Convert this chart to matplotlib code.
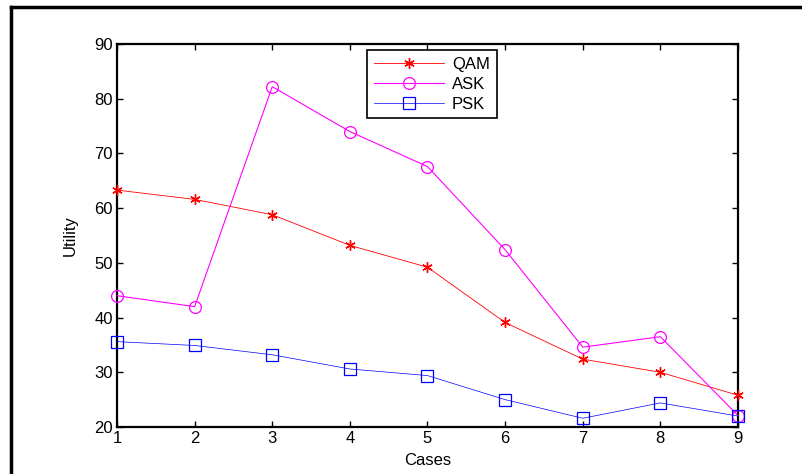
import matplotlib.pyplot as plt
import numpy as np
from matplotlib.lines import Line2D

plt.rcParams['font.family'] = ['Liberation Sans', 'DejaVu Sans']

cases = np.array([1, 2, 3, 4, 5, 6, 7, 8, 9])
qam = np.array([63.3, 61.6, 58.8, 53.2, 49.2, 39.1, 32.4, 30.0, 25.8])
ask = np.array([44.0, 42.0, 82.2, 74.0, 67.6, 52.4, 34.6, 36.5, 22.1])
psk = np.array([35.6, 34.9, 33.2, 30.6, 29.4, 25.0, 21.6, 24.4, 22.0])
yticks = [20, 30, 40, 50, 60, 70, 80, 90]

fig = plt.figure(figsize=(8.03, 4.74), dpi=100)
ax = fig.add_axes([117/803, 47/474, 621/803, 383/474])

ax.plot(cases, qam, '-', color='#ff0000', lw=0.6, marker=(6, 2, 0), ms=7.5, mew=1.0,
        label='QAM', clip_on=False, zorder=3)
ax.plot(cases, ask, '-', color='#ff00ff', lw=0.8, marker='o', ms=8.5, mfc='none', mew=0.9,
        label='ASK', clip_on=False, zorder=3)
ax.plot(cases, psk, '-', color='#0000ff', lw=0.5, marker='s', ms=8, mfc='none', mew=0.9,
        label='PSK', clip_on=False, zorder=3)

ax.set_xlim(1, 9)
ax.set_ylim(20, 90)
ax.set_xticks(cases)
ax.set_yticks(yticks)
ax.tick_params(direction='in', top=True, right=True, length=4, width=1, labelsize=12, pad=3)
for s in ax.spines.values():
    s.set_linewidth(1.6)

ax.set_xlabel('Cases', fontsize=12, labelpad=5)
ax.set_ylabel('Utility', fontsize=12, labelpad=12)

leg = ax.legend(loc='upper left', bbox_to_anchor=(0.4026, 0.984), borderaxespad=0,
                fontsize=12, fancybox=False, handlelength=4.2, handletextpad=0.5,
                labelspacing=0.3, borderpad=0.4, framealpha=1)
leg.get_frame().set_edgecolor('black')
leg.get_frame().set_linewidth(1.2)

# clipped outer frame
fig.add_artist(Line2D([11/803, 11/803], [0, 1 - 7/474], transform=fig.transFigure, color='black', lw=2.5))
fig.add_artist(Line2D([11/803, 1], [1 - 7/474, 1 - 7/474], transform=fig.transFigure, color='black', lw=2.5))

fig.savefig('out.png', dpi=100)
